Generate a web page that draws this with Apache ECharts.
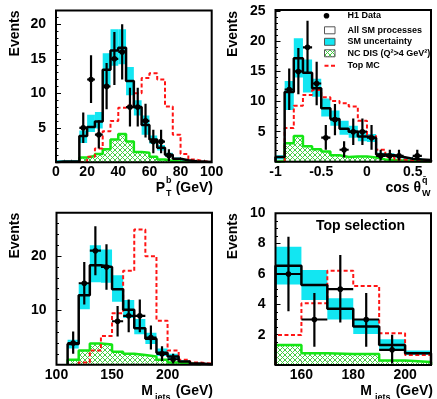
<!DOCTYPE html>
<html>
<head>
<meta charset="utf-8">
<script src="https://cdn.jsdelivr.net/npm/echarts@6/dist/echarts.min.js"></script>
<style>
  html, body { margin: 0; padding: 0; background: #fff; }
  #chart { width: 437px; height: 399px; }
</style>
</head>
<body>
<div id="chart"></div>
<script>
// ---------- P_T of the b jet ----------
const ptBins      = [0, 5, 10, 15, 20, 25, 30, 35, 40, 45, 50, 55, 60, 65, 70, 75, 80, 85, 90, 95];
const ptBinWidth  = 5;
const ptSM        = [0.1, 0.1, 0.1, 3.8, 5.1, 5.9, 13.4, 16.2, 16.6, 11.8, 8.0, 5.4, 3.3, 2.1, 1.1, 0.5, 0.3, 0.15, 0.1, 0.05];
const ptSMLow     = [0, 0, 0, 2.8, 4.4, 4.9, 11.2, 14.0, 14.2, 9.7, 6.8, 4.0, 2.7, 1.7, 0.8, 0.3, 0.15, 0.05, 0, 0];
const ptSMHigh    = [0.3, 0.3, 0.3, 4.6, 6.9, 7.3, 15.8, 19.3, 19.3, 13.8, 9.0, 6.8, 3.9, 2.5, 1.4, 0.7, 0.45, 0.3, 0.2, 0.15];
const ptNC        = [0, 0, 0, 0.7, 0.9, 1.2, 1.9, 3.3, 4.1, 3.0, 1.5, 1.4, 0.8, 0.4, 0.2, 0.1, 0.05, 0, 0, 0];
const ptTop       = [0, 0, 0, 0.1, 0.8, 2.0, 4.5, 6.0, 7.9, 8.2, 10.0, 12.2, 12.9, 12.0, 8.1, 4.0, 1.2, 0.4, 0.15, 0.05];
const ptDataX     = [17.5, 22.5, 27.5, 32.5, 37.5, 42.5, 47.5, 52.5, 57.5, 62.5, 67.5, 72.5];
const ptData      = [5, 12, 4, 11, 15, 16, 8, 8, 6, 3, 3, 1];
const ptDataLow   = [2.8, 8.6, 2.0, 7.7, 11.2, 12.0, 5.2, 5.2, 3.6, 1.3, 1.3, 0.2];
const ptDataHigh  = [7.2, 15.5, 6.1, 14.4, 18.9, 20.0, 10.8, 10.8, 8.5, 4.7, 4.7, 1.9];
const ptXLabels   = [0, 20, 40, 60, 80, 100];
const ptYLabels   = [5, 10, 15, 20];

// ---------- cos theta_W of the anti-quark ----------
const cosBins      = [-1, -0.9, -0.8, -0.7, -0.6, -0.5, -0.4, -0.3, -0.2, -0.1, 0, 0.1, 0.2, 0.3, 0.4, 0.5, 0.6];
const cosBinWidth  = 0.1;
const cosSM        = [0.8, 11.6, 17.2, 14.8, 12.2, 8.9, 7.1, 5.5, 5.0, 4.2, 3.9, 1.2, 1.1, 0.8, 0.5, 0.4, 0.3];
const cosSMLow     = [0.4, 8.6, 14.0, 11.5, 10.8, 7.5, 6.0, 4.5, 4.0, 3.4, 3.3, 0.9, 0.8, 0.6, 0.35, 0.25, 0.15];
const cosSMHigh    = [1.1, 13.4, 20.5, 17.0, 13.8, 10.5, 8.5, 6.8, 6.0, 5.0, 4.6, 1.5, 1.4, 1.0, 0.7, 0.6, 0.45];
const cosNC        = [0.1, 3.1, 4.3, 2.6, 2.1, 1.7, 1.1, 0.8, 0.9, 0.9, 0.7, 0.4, 0.3, 0.2, 0.1, 0.1, 0.05];
const cosTop       = [0, 5.6, 9.3, 11.1, 11.9, 10.7, 10.1, 9.7, 9.2, 6.8, 4.3, 2.0, 0.8, 0.4, 0.2, 0.1, 0.05];
const cosDataX     = [-0.85, -0.75, -0.65, -0.55, -0.45, -0.35, -0.25, -0.15, -0.05, 0.05, 0.15, 0.25, 0.35, 0.55];
const cosData      = [12, 15, 19, 13, 4, 7, 2, 5, 5, 4, 1, 1, 1, 1];
const cosDataLow   = [8.6, 11.2, 14.6, 9.4, 2.0, 4.4, 0.7, 2.8, 2.8, 2.0, 0.2, 0.2, 0.2, 0.2];
const cosDataHigh  = [15.5, 18.9, 23.4, 16.6, 6.1, 9.6, 3.4, 7.2, 7.2, 6.1, 2.0, 2.0, 2.0, 2.0];
const cosXLabels   = [-1, -0.5, 0, 0.5];
const cosYLabels   = [5, 10, 15, 20, 25];

// ---------- three-jet invariant mass ----------
const mjBins      = [100, 110, 120, 130, 140, 150, 160, 170, 180, 190, 200, 210, 220, 230];
const mjBinWidth  = 10;
const mjSM        = [0, 3.8, 12.8, 18.3, 18.0, 13.9, 10.1, 6.7, 4.8, 2.2, 1.5, 0.6, 0.2, 0.1];
const mjSMLow     = [0, 3.0, 10.2, 15.2, 15.1, 11.6, 8.6, 5.6, 3.8, 1.6, 1.0, 0.4, 0.1, 0];
const mjSMHigh    = [0, 4.6, 14.8, 22.0, 21.2, 16.5, 11.9, 8.4, 5.9, 3.0, 2.0, 0.8, 0.3, 0.1];
const mjNC        = [0, 0.9, 2.6, 3.9, 3.7, 2.4, 2.0, 1.8, 1.5, 0.9, 0.4, 0.2, 0.1, 0];
const mjTop       = [0, 0, 0.4, 2.6, 5.3, 9.5, 17.3, 24.9, 20.0, 8.1, 2.6, 0.9, 0.4, 0.2];
const mjDataX     = [115, 125, 135, 145, 155, 165, 175, 185, 195, 205];
const mjData      = [4, 15, 21, 18, 8, 9, 9, 5, 2, 1];
const mjDataLow   = [2.0, 11.1, 16.5, 13.8, 5.2, 6.0, 6.0, 2.8, 0.7, 0.2];
const mjDataHigh  = [6.1, 18.9, 25.5, 22.2, 10.8, 12.0, 12.0, 7.2, 3.4, 2.0];
const mjXLabels   = [100, 150, 200];
const mjYLabels   = [10, 20];

// ---------- invariant mass after the top selection ----------
const topBins      = [150, 160, 170, 180, 190, 200];
const topBinWidth  = 10;
const topSM        = [6.55, 5.27, 3.7, 2.53, 1.32, 0.77];
const topSMLow     = [5.3, 4.29, 3.0, 2.04, 1.0, 0.66];
const topSMHigh    = [7.8, 6.26, 4.4, 3.0, 1.7, 0.95];
const topNC        = [1.32, 0.77, 0.73, 0.73, 0.29, 0.2];
const topTop       = [1.98, 4.07, 6.22, 5.2, 2.09, 0.66];
const topDataX     = [155, 165, 175, 185, 195];
const topData      = [6, 3, 5, 3, 1];
const topDataLow   = [3.55, 1.2, 2.8, 1.2, 0.1];
const topDataHigh  = [8.45, 4.75, 7.25, 4.75, 2.0];
const topXLabels   = [160, 180, 200];
const topYLabels   = [2, 4, 6, 8, 10];

// ---------- styling ----------
const FONT  = '"Liberation Sans", Arial, Helvetica, sans-serif';
const CYAN  = '#12e6f2';
const GREEN = '#14e614';
const RED   = '#ff1414';

function hatchCanvas() {
  const c = document.createElement('canvas');
  c.width = 5; c.height = 5;
  const g = c.getContext('2d');
  g.fillStyle = '#ffffff';
  g.fillRect(0, 0, 5, 5);
  g.strokeStyle = '#44cc44';
  g.lineWidth = 1;
  g.beginPath();
  g.moveTo(0, 0); g.lineTo(5, 5);
  g.moveTo(5, 0); g.lineTo(0, 5);
  g.stroke();
  return c;
}
const HATCH = { image: hatchCanvas(), repeat: 'repeat' };

const panels = [
  { box: { left: 56, top: 10.5, width: 155.7, height: 151.8 },
    x: { min: 0, max: 100, interval: 20, minor: 4, labels: ptXLabels },
    y: { min: 0, max: 22, interval: 5, minor: 5, labels: ptYLabels },
    bins: ptBins, w: ptBinWidth, sm: ptSM, lo: ptSMLow, hi: ptSMHigh, nc: ptNC, top: ptTop,
    dx: ptDataX, d: ptData, dlo: ptDataLow, dhi: ptDataHigh },
  { box: { left: 275.5, top: 10, width: 155.5, height: 151.8 },
    x: { min: -1, max: 0.7, interval: 0.5, minor: 5, labels: cosXLabels },
    y: { min: 0, max: 25.2, interval: 5, minor: 5, labels: cosYLabels },
    bins: cosBins, w: cosBinWidth, sm: cosSM, lo: cosSMLow, hi: cosSMHigh, nc: cosNC, top: cosTop,
    dx: cosDataX, d: cosData, dlo: cosDataLow, dhi: cosDataHigh },
  { box: { left: 56.5, top: 212.7, width: 155.5, height: 152 },
    x: { min: 100, max: 240, interval: 50, minor: 5, labels: mjXLabels },
    y: { min: 0, max: 28, interval: 10, minor: 5, labels: mjYLabels },
    bins: mjBins, w: mjBinWidth, sm: mjSM, lo: mjSMLow, hi: mjSMHigh, nc: mjNC, top: mjTop,
    dx: mjDataX, d: mjData, dlo: mjDataLow, dhi: mjDataHigh },
  { box: { left: 275.5, top: 213.3, width: 155.5, height: 151.7 },
    x: { min: 150, max: 210, interval: 10, minor: 2, labels: topXLabels },
    y: { min: 0, max: 10, interval: 2, minor: 4, labels: topYLabels },
    bins: topBins, w: topBinWidth, sm: topSM, lo: topSMLow, hi: topSMHigh, nc: topNC, top: topTop,
    dx: topDataX, d: topData, dlo: topDataLow, dhi: topDataHigh }
];

// histogram outline: vertical/horizontal steps, trimmed of empty end bins
function stepPoints(bins, w, vals) {
  let a = 0, b = vals.length - 1;
  while (a < b && vals[a] === 0) a++;
  while (b > a && vals[b] === 0) b--;
  const pts = [[bins[a], 0]];
  for (let i = a; i <= b; i++) {
    pts.push([bins[i], vals[i]]);
    pts.push([bins[i] + w, vals[i]]);
  }
  pts.push([bins[b] + w, 0]);
  return pts;
}

function labelFormatter(list) {
  return function (v) {
    const t = list.find(l => Math.abs(l - v) < 1e-6);
    return t === undefined ? '' : String(t);
  };
}

function axisCommon(cfg, idx, margin, pos) {
  return {
    gridIndex: idx, type: 'value', position: pos,
    min: cfg.min, max: cfg.max, interval: cfg.interval,
    axisLine: { show: false, onZero: false },
    splitLine: { show: false },
    axisTick: { show: true, inside: true, length: 5, lineStyle: { color: '#000', width: 1 } },
    minorTick: { show: true, splitNumber: cfg.minor, length: 2.5, lineStyle: { color: '#000', width: 1 } },
    axisLabel: {
      formatter: labelFormatter(cfg.labels), color: '#000',
      fontFamily: FONT, fontWeight: 'bold', fontSize: 14, margin: margin,
      showMinLabel: true, showMaxLabel: true
    }
  };
}

const grids = [], xAxes = [], yAxes = [], series = [];
panels.forEach((p, i) => {
  grids.push(Object.assign({ containLabel: false, outerBoundsMode: 'none' }, p.box));
  xAxes.push(axisCommon(p.x, i, 3, 'bottom'));
  yAxes.push(axisCommon(p.y, i, 10, 'left'));

  // SM uncertainty band
  series.push({
    type: 'custom', xAxisIndex: i, yAxisIndex: i, clip: true, z: 1, silent: true,
    data: p.bins.map((e, k) => [e, e + p.w, p.lo[k], p.hi[k]]),
    encode: { x: [0, 1], y: [2, 3] },
    renderItem: function (params, api) {
      const a = api.coord([api.value(0), api.value(3)]);
      const b = api.coord([api.value(1), api.value(2)]);
      return { type: 'rect', shape: { x: a[0], y: a[1], width: b[0] - a[0], height: b[1] - a[1] },
               style: { fill: CYAN } };
    }
  });
  // NC DIS hatched fill
  series.push({
    type: 'custom', xAxisIndex: i, yAxisIndex: i, clip: true, z: 2, silent: true,
    data: p.bins.map((e, k) => [e, e + p.w, 0, p.nc[k]]),
    encode: { x: [0, 1], y: [2, 3] },
    renderItem: function (params, api) {
      const a = api.coord([api.value(0), api.value(3)]);
      const b = api.coord([api.value(1), api.value(2)]);
      return { type: 'rect', shape: { x: a[0], y: a[1], width: b[0] - a[0], height: b[1] - a[1] },
               style: { fill: HATCH } };
    }
  });
  // NC DIS outline
  series.push({
    type: 'line', xAxisIndex: i, yAxisIndex: i, z: 3, silent: true, symbol: 'none',
    data: stepPoints(p.bins, p.w, p.nc),
    lineStyle: { color: GREEN, width: 2.5 }
  });
  // Top MC
  series.push({
    type: 'line', xAxisIndex: i, yAxisIndex: i, z: 4, silent: true, symbol: 'none',
    data: stepPoints(p.bins, p.w, p.top),
    lineStyle: { color: RED, width: 2, type: [4, 2.5] }
  });
  // all SM processes
  series.push({
    type: 'line', xAxisIndex: i, yAxisIndex: i, z: 5, silent: true, symbol: 'none',
    data: stepPoints(p.bins, p.w, p.sm),
    lineStyle: { color: '#000', width: 2.5 }
  });
  // H1 data with error bars
  series.push({
    type: 'custom', xAxisIndex: i, yAxisIndex: i, clip: true, z: 6, silent: true,
    data: p.dx.map((x, k) => [x, p.d[k], p.dlo[k], p.dhi[k], p.w / 2]),
    encode: { x: 0, y: 1 },
    renderItem: function (params, api) {
      const x = api.value(0), y = api.value(1), hw = api.value(4);
      const c = api.coord([x, y]);
      const lo = api.coord([x, api.value(2)]);
      const hi = api.coord([x, api.value(3)]);
      const l = api.coord([x - hw, y]);
      const r = api.coord([x + hw, y]);
      return { type: 'group', children: [
        { type: 'line', shape: { x1: c[0], y1: lo[1], x2: c[0], y2: hi[1] }, style: { stroke: '#000', lineWidth: 2.2 } },
        { type: 'line', shape: { x1: l[0], y1: c[1], x2: r[0], y2: c[1] }, style: { stroke: '#000', lineWidth: 2.2 } },
        { type: 'circle', shape: { cx: c[0], cy: c[1], r: 2.8 }, style: { fill: '#000' } }
      ] };
    }
  });
});

// frames, axis titles, legend and panel caption
const T14 = 'bold 14px ' + FONT;
const T9  = 'bold 9px ' + FONT;
const graphics = [];
panels.forEach(p => {
  const b = p.box;
  graphics.push({ type: 'rect', z: 100, silent: true,
    shape: { x: b.left, y: b.top, width: b.width, height: b.height },
    style: { fill: 'none', stroke: '#000', lineWidth: 2 } });
});
function txt(x, y, text, font, align, valign, rot) {
  return { type: 'text', x: x, y: y, rotation: rot || 0, z: 110, silent: true,
    style: { text: text, font: font, fill: '#000', align: align || 'left', verticalAlign: valign || 'middle' } };
}
// y titles
graphics.push(txt(15, 10.5, 'Events', T14, 'right', 'middle', Math.PI / 2));
graphics.push(txt(233, 11, 'Events', T14, 'right', 'middle', Math.PI / 2));
graphics.push(txt(15, 212.7, 'Events', T14, 'right', 'middle', Math.PI / 2));
graphics.push(txt(233, 213.3, 'Events', T14, 'right', 'middle', Math.PI / 2));
// x titles
graphics.push(txt(165, 188, 'P', T14, 'right'));
graphics.push(txt(166, 181, 'b', T9, 'left'));
graphics.push(txt(166, 193.5, 'T', T9, 'left'));
graphics.push(txt(213, 188, '(GeV)', T14, 'right'));
graphics.push(txt(421, 188, 'cos \u03b8', T14, 'right'));
graphics.push(txt(422, 180.5, 'q\u0304', T9, 'left'));
graphics.push(txt(422, 193.5, 'W', T9, 'left'));
graphics.push(txt(153, 391, 'M', T14, 'right'));
graphics.push(txt(155, 398, 'jets', T9, 'left'));
graphics.push(txt(213, 391, '(GeV)', T14, 'right'));
graphics.push(txt(372, 391, 'M', T14, 'right'));
graphics.push(txt(375, 398, 'jets', T9, 'left'));
graphics.push(txt(433, 391, '(GeV)', T14, 'right'));
// caption of the last panel
graphics.push(txt(360.5, 226, 'Top selection', T14, 'center'));
// legend
graphics.push({ type: 'circle', z: 110, silent: true, shape: { cx: 326.5, cy: 15.7, r: 2.8 }, style: { fill: '#000' } });
graphics.push(txt(347.5, 16, 'H1 Data', T9));
graphics.push({ type: 'rect', z: 110, silent: true, shape: { x: 324.5, y: 26.8, width: 10.5, height: 7 },
  style: { fill: '#fff', stroke: '#555', lineWidth: 1 } });
graphics.push(txt(347.5, 30.3, 'All SM processes', T9));
graphics.push({ type: 'rect', z: 110, silent: true, shape: { x: 324.5, y: 38.3, width: 10.5, height: 7 },
  style: { fill: CYAN, stroke: '#555', lineWidth: 1 } });
graphics.push(txt(347.5, 41.8, 'SM uncertainty', T9));
graphics.push({ type: 'rect', z: 110, silent: true, shape: { x: 324.5, y: 49.8, width: 10.5, height: 7 },
  style: { fill: HATCH, stroke: '#555', lineWidth: 1 } });
graphics.push(txt(347.5, 53.4, 'NC DIS (Q\u00b2>4 GeV\u00b2)', T9));
graphics.push({ type: 'line', z: 110, silent: true, shape: { x1: 324.5, y1: 65.8, x2: 335, y2: 65.8 },
  style: { stroke: RED, lineWidth: 2, lineDash: [4, 2.5] } });
graphics.push(txt(347.5, 65.8, 'Top MC', T9));

const chart = echarts.init(document.getElementById('chart'), null, { renderer: 'canvas' });
chart.setOption({
  animation: false,
  backgroundColor: '#fff',
  textStyle: { fontFamily: FONT },
  grid: grids,
  xAxis: xAxes,
  yAxis: yAxes,
  series: series,
  graphic: { elements: graphics }
});
</script>
</body>
</html>
